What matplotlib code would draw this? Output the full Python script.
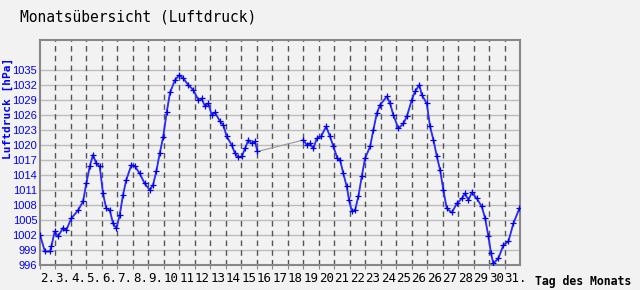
import matplotlib.pyplot as plt

# Tage (Beschriftung der x-Achse)
tage = ['2.', '3.', '4.', '5.', '6.', '7.', '8.', '9.', '10', '11', '12', '13',
        '14', '15', '16', '17', '18', '19', '20', '21', '22', '23', '24', '25',
        '26', '26', '27', '28', '29', '30', '31.']

# Luftdruck, erster Abschnitt (Position in Tagen ab Beginn, hPa)
zeit_a = [0.0, 0.32, 0.65, 0.73, 0.95, 1.16, 1.49, 1.70, 2.02, 2.45, 2.78, 2.99,
          3.21, 3.42, 3.64, 3.86, 4.07, 4.28, 4.50, 4.72, 4.93, 5.15, 5.36, 5.57,
          5.90, 6.12, 6.44, 6.76, 7.09, 7.30, 7.51, 7.73, 7.95, 8.18, 8.40, 8.72,
          9.00, 9.26, 9.58, 9.90, 10.23, 10.44, 10.66, 10.87, 11.09, 11.30, 11.63,
          11.84, 12.06, 12.38, 12.60, 12.81, 13.03, 13.24, 13.46, 13.68, 13.89, 14.04]
druck_a = [1002, 998.7, 998.7, 999.7, 1002.7, 1001.7, 1003.4, 1003, 1005.3, 1006.9,
           1008.7, 1012.3, 1015.7, 1018, 1016.3, 1015.7, 1010.3, 1007.3, 1007, 1004.3,
           1003.3, 1006, 1010, 1013, 1016, 1015.8, 1014.3, 1012.3, 1011, 1012, 1014.7,
           1018.3, 1021.5, 1026.5, 1030.5, 1033, 1034, 1033.3, 1032, 1031, 1029,
           1029.3, 1027.7, 1028.3, 1026, 1026.5, 1024.7, 1024, 1021.7, 1020, 1018.3,
           1017.5, 1017.7, 1019.3, 1021, 1020.3, 1020.7, 1018.7]

# zweiter Abschnitt nach der Datenlücke
zeit_b = [17.01, 17.23, 17.44, 17.66, 17.87, 18.15, 18.48, 18.73, 18.95, 19.21,
          19.38, 19.59, 19.81, 19.96, 20.14, 20.35, 20.56, 20.78, 20.99, 21.32,
          21.53, 21.75, 21.96, 22.40, 22.61, 22.82, 23.15, 23.47, 23.69, 24.01,
          24.22, 24.50, 24.66, 24.98, 25.19, 25.41, 25.63, 25.84, 26.05, 26.27,
          26.60, 26.92, 27.24, 27.45, 27.67, 27.89, 28.21, 28.53, 28.75, 28.96,
          29.13, 29.28, 29.60, 29.93, 30.25, 30.57, 30.96]
druck_b = [1021, 1020, 1020.3, 1019.3, 1021.3, 1021.7, 1023.7, 1021.7, 1019.7, 1017.3,
           1017, 1014.3, 1011.7, 1009, 1006.7, 1007, 1009.7, 1013.7, 1017.3, 1019.7,
           1023, 1026.3, 1028, 1029.7, 1028.3, 1026, 1023.3, 1024.3, 1025.7, 1029,
           1030.7, 1032, 1030, 1028.3, 1023.7, 1021, 1017.7, 1015, 1011, 1007.3,
           1006.5, 1008.3, 1009.3, 1010.3, 1009, 1010.5, 1009.3, 1007.7, 1005.3, 1001.7,
           998.3, 996.3, 997.3, 1000, 1000.7, 1004.3, 1007.3]

y_ticks = list(range(996, 1036, 3))

hg = '#f2f2f2'
fig = plt.figure(figsize=(6.4, 2.9), dpi=100, facecolor=hg)
ax = fig.add_axes([40/640, 25/290, 480/640, 225/290], facecolor=hg)

# Gitter
for y in y_ticks[1:]:
    ax.axhline(y, color='#bdbdbd', lw=1, zorder=1)
for i in range(1, len(tage)):
    ax.axvline(i, color='#555555', lw=1, ls=(0, (4, 3)), zorder=1)

# Lücke als dünne graue Linie, Messwerte blau
ax.plot(zeit_a + zeit_b, druck_a + druck_b, color='#999999', lw=0.8, zorder=2)
ax.plot(zeit_a, druck_a, color='#2b2bff', lw=1.3, marker='+', ms=4, mew=0.9,
        mec='#0000ee', zorder=3)
ax.plot(zeit_b, druck_b, color='#2b2bff', lw=1.3, marker='+', ms=4, mew=0.9,
        mec='#0000ee', zorder=3)

ax.set_xlim(0, 31)
ax.set_ylim(996, 1041)
ax.set_xticks(range(len(tage)))
ax.set_xticklabels(tage, ha='left', family='DejaVu Sans Mono', fontsize=9)
ax.set_yticks(y_ticks)
ax.set_yticklabels([str(v) for v in y_ticks], color='#0000ff', family='Liberation Sans', fontsize=8)
ax.tick_params(axis='x', length=3, color='#888888', pad=2)
ax.tick_params(axis='y', length=0, pad=2)
for s in ax.spines.values():
    s.set_color('#888888')
    s.set_linewidth(1.5)

fig.text(20/640, 1 - 17/290, 'Monatsübersicht (Luftdruck)', family='DejaVu Sans Mono',
         fontsize=10.5, va='center', ha='left')
fig.text(8/640, 1 - 108/290, 'Luftdruck [hPa]', family='DejaVu Sans Mono', fontsize=8,
         fontweight='bold', color='#0000ff', rotation=90, va='center', ha='center')
fig.text(535/640, 1 - 282/290, 'Tag des Monats', family='DejaVu Sans Mono', fontsize=8.3,
         fontweight='bold', va='center', ha='left')

fig.savefig('out.png', dpi=100, facecolor=hg)
